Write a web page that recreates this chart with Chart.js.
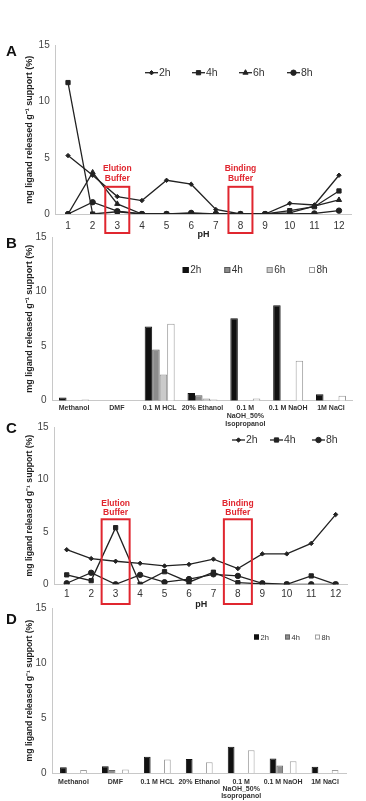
<!DOCTYPE html>
<html>
<head>
<meta charset="utf-8">
<script src="https://cdn.jsdelivr.net/npm/chart.js@4.4.1/dist/chart.umd.min.js"></script>
<style>
  body { margin: 0; background: #fff; width: 366px; height: 801px; position: relative; overflow: hidden; }
  .panel { position: absolute; left: 0; width: 366px; }
  .letter { position: absolute; left: 6px; font: bold 15px "Liberation Sans", Arial, sans-serif; color: #111; }
</style>
</head>
<body>
<div class="panel" style="top:30px;height:210px"><canvas id="chartA" width="366" height="210"></canvas></div>
<div class="panel" style="top:225px;height:210px"><canvas id="chartB" width="366" height="210"></canvas></div>
<div class="panel" style="top:415px;height:200px"><canvas id="chartC" width="366" height="200"></canvas></div>
<div class="panel" style="top:596px;height:205px"><canvas id="chartD" width="366" height="205"></canvas></div>
<div class="letter" style="top:42px">A</div>
<div class="letter" style="top:234px">B</div>
<div class="letter" style="top:419px">C</div>
<div class="letter" style="top:610px">D</div>

<script>
// pH stability (A, C) and solvent stability (B, D)
const phLabels = ["1", "2", "3", "4", "5", "6", "7", "8", "9", "10", "11", "12"];
const solventLabels = ["Methanol", "DMF", "0.1 M HCL", "20% Ethanol", ["0.1 M", "NaOH_50%", "Isopropanol"], "0.1 M NaOH", "1M NaCl"];
const bufferPh = ["3", "8"];
const bufferNames = [["Elution", "Buffer"], ["Binding", "Buffer"]];

const a2h = [5.2, 3.45, 1.55, 1.2, 3.0, 2.65, 0.4, 0, 0, 0.95, 0.8, 3.45];
const a4h = [11.7, 0, 0.2, 0, 0, 0, 0, 0, 0, 0.3, 0.65, 2.05];
const a6h = [0, 3.7, 0.9, 0, 0, 0.05, 0, 0, 0, 0.1, 0.7, 1.25];
const a8h = [0, 1.05, 0.25, 0, 0, 0.1, 0, 0, 0, 0, 0.05, 0.3];

const b2h = [0.3, 0, 6.8, 0.7, 7.55, 8.75, 0.6];
const b4h = [0, 0, 4.7, 0.5, 0, 0, 0];
const b6h = [0, 0, 2.4, 0.2, 0, 0, 0];
const b8h = [0.1, 0, 7.05, 0.1, 0.2, 3.65, 0.45];

const c2h = [3.3, 2.45, 2.2, 2.0, 1.75, 1.9, 2.4, 1.5, 2.9, 2.9, 3.9, 6.65];
const c4h = [0.9, 0.35, 5.4, 0, 1.2, 0.2, 1.15, 0.15, 0.05, 0, 0.8, 0];
const c8h = [0.1, 1.1, 0, 0.9, 0.2, 0.5, 0.95, 0.8, 0.1, 0, 0, 0];

const d2h = [0.55, 0.65, 1.5, 1.3, 2.4, 1.35, 0.6];
const d4h = [0, 0.3, 0, 0, 0, 0.7, 0];
const d6h = [null, null, null, null, null, null, null]; // slot left empty in the figure
const d8h = [0.3, 0.35, 1.25, 1.0, 2.1, 1.1, 0.3];

const FONT = '"Liberation Sans", Arial, sans-serif';
const INK = "#222";
const RED = "#e0262f";
const Y_TITLE = "mg ligand released g\u207B\u00B9 support (%)";
const PAD_LEFT = 20.6;

function yAxis(chartLeft, titleSize) {
  return {
    min: 0,
    max: 15,
    ticks: { stepSize: 5, color: "#444", font: { size: 10, family: FONT }, padding: 6 },
    grid: { display: false, drawTicks: false },
    border: { display: true, color: "#c8c8c8" },
    title: {
      display: true,
      text: Y_TITLE,
      color: INK,
      font: { size: titleSize, weight: "bold", family: FONT },
      padding: { top: 4, bottom: 4 },
    },
    afterFit: (s) => { s.width = chartLeft - PAD_LEFT; },
  };
}

function xAxis(height, opts) {
  return {
    offset: true,
    ticks: {
      color: "#333",
      font: opts.font,
      padding: opts.padding,
      autoSkip: false,
      maxRotation: 0,
      minRotation: 0,
    },
    grid: { display: false, drawTicks: false },
    border: { display: true, color: "#c8c8c8" },
    title: {
      display: !!opts.title,
      text: opts.title || "",
      color: INK,
      font: { size: 9, weight: "bold", family: FONT },
      padding: { top: 0, bottom: 0 },
    },
    afterFit: (s) => { s.height = height; },
  };
}

function lineSet(label, data, style, radius) {
  return {
    label: label,
    data: data,
    borderColor: INK,
    backgroundColor: INK,
    borderWidth: 1.3,
    pointStyle: style,
    pointRadius: radius,
    pointBorderWidth: 1,
    tension: 0,
  };
}

function barSet(label, data, fill, border) {
  return {
    label: label,
    data: data,
    backgroundColor: fill,
    borderColor: border,
    borderWidth: 1,
    barPercentage: 1,
  };
}

// line legend: short line with the marker in the middle, then the label
function lineLegend(items, y) {
  return {
    id: "lineLegend",
    afterDraw(chart) {
      const ctx = chart.ctx;
      ctx.save();
      ctx.font = "10.5px " + FONT;
      ctx.textBaseline = "middle";
      items.forEach((it) => {
        const ds = chart.data.datasets[it.index];
        ctx.strokeStyle = INK;
        ctx.fillStyle = INK;
        ctx.lineWidth = 1.3;
        ctx.beginPath();
        ctx.moveTo(it.x, y);
        ctx.lineTo(it.x + 13, y);
        ctx.stroke();
        ctx.lineWidth = 1;
        Chart.helpers.drawPoint(ctx, { pointStyle: ds.pointStyle, radius: ds.pointRadius, borderWidth: 1, rotation: 0 }, it.x + 6.5, y);
        ctx.fillStyle = "#333";
        ctx.fillText(ds.label, it.x + 14, y + 0.5);
      });
      ctx.restore();
    },
  };
}

function barLegend(items, y, size, fontSize) {
  return {
    id: "barLegend",
    afterDraw(chart) {
      const ctx = chart.ctx;
      ctx.save();
      ctx.font = fontSize + "px " + FONT;
      ctx.textBaseline = "middle";
      items.forEach((it) => {
        const ds = chart.data.datasets[it.index];
        ctx.fillStyle = ds.backgroundColor;
        ctx.strokeStyle = ds.borderColor;
        ctx.lineWidth = 1;
        ctx.fillRect(it.x, y - size / 2, size, size);
        ctx.strokeRect(it.x + 0.5, y - size / 2 + 0.5, size - 1, size - 1);
        ctx.fillStyle = "#333";
        ctx.fillText(ds.label, it.x + size + 1.5, y + 0.5);
      });
      ctx.restore();
    },
  };
}

// red boxes round the elution and binding pH values
function bufferBoxes(topValue, halfWidth, belowAxis, textGap) {
  return {
    id: "bufferBoxes",
    afterDraw(chart) {
      const { ctx, chartArea, scales } = chart;
      ctx.save();
      bufferPh.forEach((ph, i) => {
        const cx = scales.x.getPixelForValue(phLabels.indexOf(ph));
        const top = scales.y.getPixelForValue(topValue);
        ctx.strokeStyle = RED;
        ctx.lineWidth = 2;
        ctx.strokeRect(cx - halfWidth, top, halfWidth * 2, chartArea.bottom + belowAxis - top);
        ctx.fillStyle = RED;
        ctx.font = "bold 8.5px " + FONT;
        ctx.textAlign = "center";
        ctx.textBaseline = "middle";
        ctx.fillText(bufferNames[i][0], cx, top - textGap[0]);
        ctx.fillText(bufferNames[i][1], cx, top - textGap[1]);
      });
      ctx.restore();
    },
  };
}

const baseOptions = (scales, padding) => ({
  responsive: false,
  animation: false,
  layout: { padding: padding },
  plugins: { legend: { display: false }, tooltip: { enabled: false } },
  scales: scales,
});

// A
new Chart(document.getElementById("chartA"), {
  type: "line",
  data: {
    labels: phLabels,
    datasets: [
      lineSet("2h", a2h, "rectRot", 2.2),
      lineSet("4h", a4h, "rect", 3),
      lineSet("6h", a6h, "triangle", 3),
      lineSet("8h", a8h, "circle", 2.7),
    ],
  },
  options: baseOptions(
    { x: xAxis(26, { font: { size: 10, family: FONT }, padding: 6, title: "pH" }), y: yAxis(55.7, 9) },
    { left: PAD_LEFT, right: 14.7, top: 15.5, bottom: 0 }
  ),
  plugins: [
    bufferBoxes(2.42, 12, 19, [18.4, 8]),
    lineLegend([{ index: 0, x: 145 }, { index: 1, x: 192 }, { index: 2, x: 239 }, { index: 3, x: 287 }], 42.7),
  ],
});

// B
new Chart(document.getElementById("chartB"), {
  type: "bar",
  data: {
    labels: solventLabels,
    datasets: [
      barSet("2h", b2h, "#111", "#111"),
      barSet("4h", b4h, "#8c8c8c", "#5a5a5a"),
      barSet("6h", b6h, "#cacaca", "#8a8a8a"),
      barSet("8h", b8h, "#ffffff", "#9a9a9a"),
    ],
  },
  options: Object.assign(
    baseOptions(
      { x: xAxis(34.3, { font: { size: 7, weight: "bold", family: FONT, lineHeight: 1.15 }, padding: 3 }), y: yAxis(52.6, 9) },
      { left: PAD_LEFT, right: 13.6, top: 10, bottom: 0 }
    ),
    { datasets: { bar: { categoryPercentage: 0.7 } } }
  ),
  plugins: [
    barLegend([{ index: 0, x: 182.7 }, { index: 1, x: 224.3 }, { index: 2, x: 266.7 }, { index: 3, x: 309 }], 45, 6, 10),
  ],
});

// C
new Chart(document.getElementById("chartC"), {
  type: "line",
  data: {
    labels: phLabels,
    datasets: [
      lineSet("2h", c2h, "rectRot", 2.2),
      lineSet("4h", c4h, "rect", 3),
      lineSet("8h", c8h, "circle", 2.7),
    ],
  },
  options: baseOptions(
    { x: xAxis(26.1, { font: { size: 10, family: FONT }, padding: 4, title: "pH" }), y: yAxis(54.5, 8.6) },
    { left: PAD_LEFT, right: 18.1, top: 10, bottom: 4.6 }
  ),
  plugins: [
    bufferBoxes(6.2, 14, 19.7, [15.3, 6.8]),
    lineLegend([{ index: 0, x: 232 }, { index: 1, x: 270 }, { index: 2, x: 312 }], 25),
  ],
});

// D
new Chart(document.getElementById("chartD"), {
  type: "bar",
  data: {
    labels: solventLabels,
    datasets: [
      barSet("2h", d2h, "#111", "#111"),
      barSet("4h", d4h, "#8f8f8f", "#666"),
      barSet("6h", d6h, "#cacaca", "#8a8a8a"),
      barSet("8h", d8h, "#ffffff", "#a0a0a0"),
    ],
  },
  options: Object.assign(
    baseOptions(
      { x: xAxis(27.7, { font: { size: 7, weight: "bold", family: FONT, lineHeight: 1.0 }, padding: 5 }), y: yAxis(52.5, 8.6) },
      { left: PAD_LEFT, right: 20, top: 10, bottom: 0 }
    ),
    { datasets: { bar: { categoryPercentage: 0.64 } } }
  ),
  plugins: [
    barLegend([{ index: 0, x: 254 }, { index: 1, x: 285 }, { index: 3, x: 315 }], 41, 5, 7.5),
  ],
});
</script>
</body>
</html>
